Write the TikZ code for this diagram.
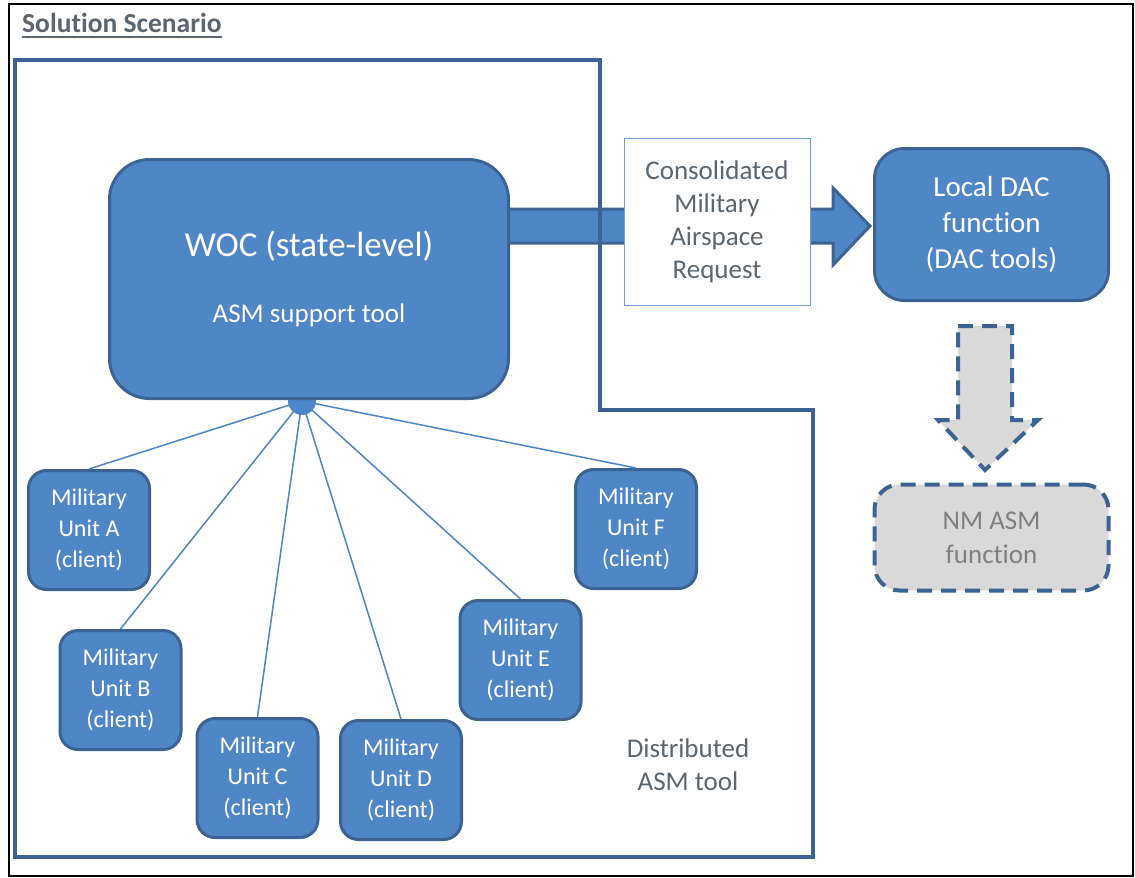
\documentclass[tikz,border=0pt]{standalone}
\usepackage{fontspec}
\setmainfont{Carlito}[RawFeature=-liga]
\usetikzlibrary{calc}
\newcommand\fsz[2]{\fontsize{#1}{#2}\selectfont}
\definecolor{boxfill}{HTML}{4F86C6}
\definecolor{boxedge}{HTML}{3B6494}
\definecolor{linkblue}{HTML}{4A86C8}
\definecolor{paleedge}{HTML}{6E9FD5}
\definecolor{slate}{HTML}{5B6670}
\definecolor{greyfill}{HTML}{D9D9D9}
\definecolor{greytext}{HTML}{7F7F7F}
\tikzset{
  bluebox/.style={draw=boxedge, fill=boxfill, line width=3pt, text=white,
    align=center, inner sep=0pt},
  unitbox/.style={bluebox, rounded corners=18pt, minimum width=121pt,
    minimum height=119pt, font=\fsz{24}{31}},
  link/.style={draw=linkblue, line width=1.5pt},
  dashedge/.style={draw=boxedge, line width=4pt, dash pattern=on 15pt off 9pt},
}
\begin{document}
\begin{tikzpicture}[x=1pt, y=-1pt]
\useasboundingbox (0,0) rectangle (1135,878);
\fill[white] (0,0) rectangle (1135,878);
% outer frame
\draw[black, line width=1.5pt] (9,4) rectangle (1133,876);
% heading
\node[anchor=base west, inner sep=0pt, text=slate, font=\fsz{27.5}{30}\bfseries]
  (title) at (22,32) {Solution Scenario};
\draw[slate, line width=1.2pt] ([yshift=-5pt]title.base west) -- ([yshift=-5pt]title.base east);

% military units
\node[unitbox] (ua) at (89,530)    {Military\\Unit A\\(client)};
\node[unitbox] (ub) at (120.5,690) {Military\\Unit B\\(client)};
\node[unitbox] (uc) at (257.5,778) {Military\\Unit C\\(client)};
\node[unitbox] (ud) at (401,780)   {Military\\Unit D\\(client)};
\node[unitbox] (ue) at (520.5,660) {Military\\Unit E\\(client)};
\node[unitbox] (uf) at (636,529)   {Military\\Unit F\\(client)};

% links from the hub to the units
\coordinate (hub) at (302,401);
\foreach \u in {ua,ub,uc,ud,ue,uf}
  \draw[link] (hub) -- (\u.north);
\fill[linkblue] (hub) circle (14pt);

% wide arrow towards the DAC
\filldraw[fill=boxfill, draw=boxedge, line width=3pt, line join=miter]
  (505,209) -- (833,209) -- (833,188) -- (870,226) -- (833,265) -- (833,243) -- (505,243) -- cycle;

% WOC
\node[bluebox, rounded corners=40pt, minimum width=399pt, minimum height=239pt]
  (woc) at (309,279)
  {{\fsz{35}{42}WOC (state-level)}\\[42pt]{\fsz{27}{32}ASM support tool}};

% consolidated request
\node[draw=paleedge, fill=white, line width=1pt, minimum width=186pt,
  minimum height=167pt, align=center, text=slate, font=\fsz{27}{33}, inner sep=0pt]
  (req) at (717,222) {Consolidated\\Military\\Airspace\\Request};

% distributed tool boundary
\draw[boxedge, line width=3.5pt, line join=miter]
  (15,60) -- (600,60) -- (600,410) -- (813,410) -- (813,857) -- (15,857) -- cycle;
\node[align=center, text=slate, font=\fsz{27}{33}, inner sep=0pt]
  (dist) at (688,765) {Distributed\\ASM tool};

% local DAC
\node[bluebox, rounded corners=30pt, minimum width=234pt, minimum height=152pt,
  font=\fsz{29}{36}] (dac) at (991.5,224.5) {Local DAC\\function\\(DAC tools)};

% dashed arrow and NM box
\filldraw[fill=greyfill, dashedge, line join=miter]
  (958,326) -- (1012,326) -- (1012,420) -- (1038,420) -- (985,470) -- (938,420) -- (958,420) -- cycle;
\node[dashedge, fill=greyfill, rounded corners=25pt, minimum width=234pt,
  minimum height=106pt, align=center, text=greytext, font=\fsz{27}{34}, inner sep=0pt]
  (nm) at (991.5,537.5) {NM ASM\\function};
\end{tikzpicture}
\end{document}
